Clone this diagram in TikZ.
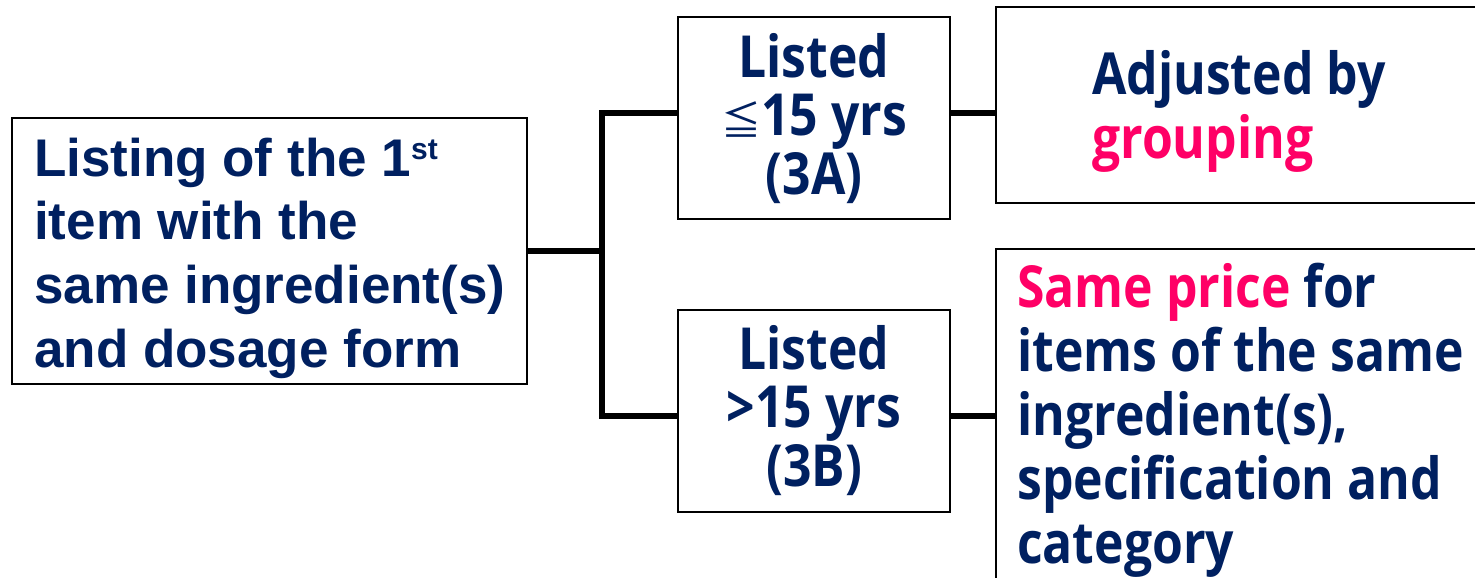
\documentclass[tikz,border=0pt]{standalone}
\usepackage{fontspec}
\setmainfont{Liberation Sans}
\newfontfamily\jh[FakeStretch=0.86]{Open Sans}
\newfontfamily\cjk{Noto Sans CJK TC}
\definecolor{navy}{HTML}{002060}
\definecolor{hot}{HTML}{FF0066}
\begin{document}
\begin{tikzpicture}[x=1pt,y=-1pt,
  box/.style={draw=black, line width=2pt, fill=white, inner sep=0pt},
  conn/.style={line width=5.5pt, line cap=butt},
  lefttext/.style={anchor=north west, inner sep=0pt, align=left, text=navy,
    font=\bfseries\fontsize{53}{63.7}\selectfont},
  midtext/.style={anchor=north, inner sep=0pt, align=center, text=navy,
    font=\jh\bfseries\fontsize{58}{58.5}\selectfont},
  righttext/.style={anchor=north west, inner sep=0pt, align=left, text=navy,
    font=\jh\bfseries\fontsize{58}{64}\selectfont}]
\useasboundingbox (0,0) rectangle (1475,578);
\begin{scope}
\clip (0,0) rectangle (1475,578);
\coordinate (J) at (602,251);
\node[box, minimum width=515pt, minimum height=266pt] (L) at (269.5,251) {};
\node[box, minimum width=272pt, minimum height=202pt] (A) at (814,118) {};
\node[box, minimum width=272pt, minimum height=202pt] (B) at (814,411) {};
\node[box, minimum width=494pt, minimum height=196pt] (RA) at (1243,105) {};
\node[box, minimum width=494pt, minimum height=371pt] (RB) at (1243,434.5) {};
\draw[conn] (L.east) -- (J);
\draw[conn, line join=miter] ([yshift=5pt]A.west) -| (J) |- ([yshift=-5pt]B.west);
\draw[conn] ([yshift=5pt]A.east) -- ([yshift=5pt]A.east -| RA.west);
\draw[conn] ([yshift=-5pt]B.east) -- ([yshift=-5pt]B.east -| RB.west);
\node[lefttext] (Lt) at (34,137.5) {Listing of the 1\raisebox{17pt}{\fontsize{30}{30}\selectfont st}\\item with the\\same ingredient(s)\\and dosage form};
\node[midtext] (At) at (814,33) {Listed\\{\cjk\mdseries\fontsize{40}{40}\selectfont ≦}15 yrs\\(3A)};
\node[midtext] (Bt) at (814,325) {Listed\\>15 yrs\\(3B)};
\node[righttext] (RAt) at (1092,50) {Adjusted by\\{\color{hot}grouping}};
\node[righttext] (RBt) at (1017,263) {{\color{hot}Same price} for\\items of the same\\ingredient(s),\\specification and\\category};
\end{scope}
\end{tikzpicture}
\end{document}
